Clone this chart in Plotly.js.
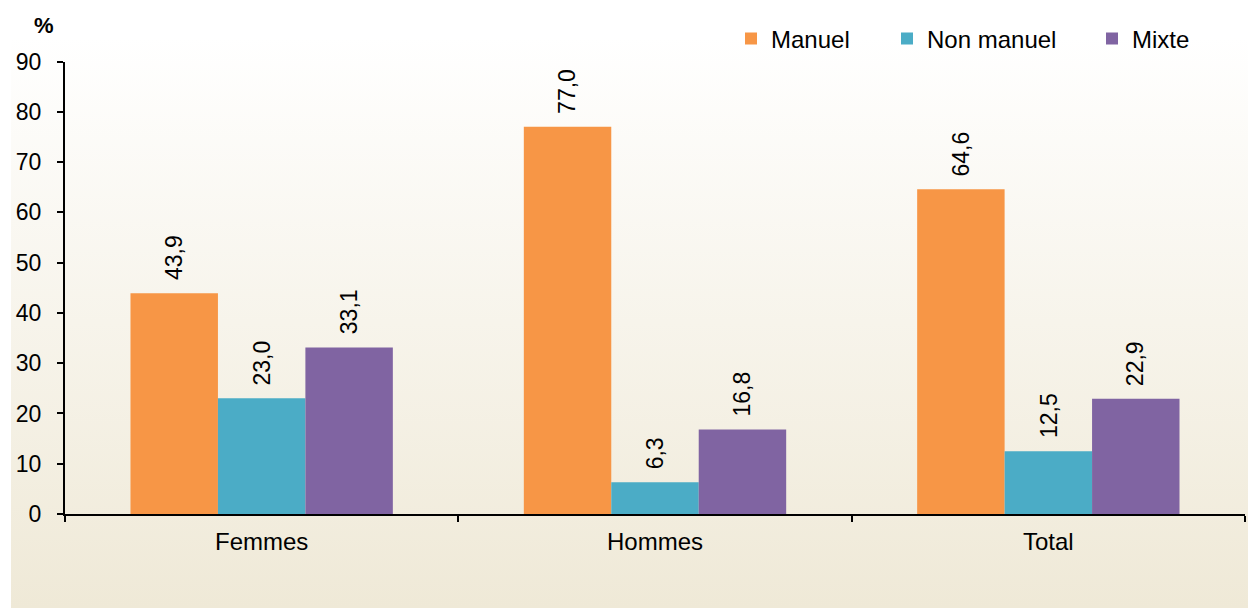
<!DOCTYPE html>
<html>
<head>
<meta charset="utf-8">
<script src="https://cdn.plot.ly/plotly-3.0.1.min.js"></script>
<style>
html,body{margin:0;padding:0;background:#ffffff;}
#wrap{position:relative;width:1248px;height:609px;overflow:hidden;}
#bg{position:absolute;left:11px;top:0;width:1237px;height:608px;background:linear-gradient(to bottom,#ffffff 6%,#efe9d7 100%);}
#chart{position:absolute;left:0;top:0;width:1248px;height:609px;}
</style>
</head>
<body>
<div id="wrap"><div id="bg"></div><div id="chart"></div></div>
<script>
const categories = ["Femmes", "Hommes", "Total"];
const seriesNames = ["Manuel", "Non manuel", "Mixte"];
const manuel = [43.9, 77.0, 64.6];
const nonManuel = [23.0, 6.3, 12.5];
const mixte = [33.1, 16.8, 22.9];
const yTicks = [0, 10, 20, 30, 40, 50, 60, 70, 80, 90];

const seriesValues = [manuel, nonManuel, mixte];
const colors = ["#F79646", "#4BACC6", "#8064A2"];
const bargap = 0.333;
const fontFamily = "Liberation Sans, Arial, sans-serif";
const legendIds = ["legend", "legend2", "legend3"];
const legendX = [731, 887, 1092];

const traces = seriesValues.map((vals, i) => ({
  type: "bar",
  name: seriesNames[i],
  x: categories,
  y: vals,
  marker: {color: colors[i], line: {width: 0}},
  legend: legendIds[i],
  hoverinfo: "x+y+name"
}));

const barW = (1 - bargap) / seriesValues.length;
const annotations = [];
seriesValues.forEach((vals, i) => {
  vals.forEach((v, c) => {
    annotations.push({
      xref: "x", yref: "y",
      x: c + (i - (seriesValues.length - 1) / 2) * barW,
      y: v,
      text: v.toFixed(1).replace(".", ","),
      textangle: -90,
      showarrow: false,
      xanchor: "center", yanchor: "bottom",
      yshift: 11,
      font: {family: fontFamily, size: 23, color: "#000000"}
    });
  });
});
annotations.push({
  xref: "paper", yref: "paper",
  x: -0.018, y: 1.079,
  text: "<b>%</b>", showarrow: false,
  xanchor: "center", yanchor: "middle",
  font: {family: fontFamily, size: 22, color: "#000000"}
});

const layout = {
  width: 1248, height: 609,
  margin: {l: 65, r: 3, t: 61, b: 95},
  paper_bgcolor: "rgba(0,0,0,0)",
  plot_bgcolor: "rgba(0,0,0,0)",
  barmode: "group",
  bargap: bargap,
  bargroupgap: 0,
  font: {family: fontFamily, size: 24, color: "#000000"},
  separators: ", ",
  xaxis: {
    type: "category",
    showline: true, linecolor: "#000000", linewidth: 2,
    ticks: "outside", tickson: "boundaries", ticklen: 6, tickwidth: 1.5, tickcolor: "#000000",
    showgrid: false, zeroline: false,
    tickfont: {family: fontFamily, size: 24, color: "#000000"},
    ticklabelstandoff: 5,
    fixedrange: true
  },
  yaxis: {
    range: [0, 90],
    tickvals: yTicks,
    ticktext: yTicks.map(String),
    showline: true, linecolor: "#000000", linewidth: 2,
    ticks: "outside", ticklen: 6, tickwidth: 1.5, tickcolor: "#000000",
    showgrid: false, zeroline: false,
    tickfont: {family: fontFamily, size: 23, color: "#000000"},
    ticklabelstandoff: 11,
    fixedrange: true
  },
  annotations: annotations,
  showlegend: true
};
legendIds.forEach((id, i) => {
  layout[id] = {
    orientation: "h",
    xref: "container", yref: "container",
    x: legendX[i] / 1248, y: 1 - 39 / 609,
    xanchor: "left", yanchor: "middle",
    bgcolor: "rgba(0,0,0,0)",
    font: {family: fontFamily, size: 24, color: "#000000"},
    itemclick: false, itemdoubleclick: false
  };
});

Plotly.newPlot("chart", traces, layout, {displayModeBar: false, staticPlot: false});
</script>
</body>
</html>
